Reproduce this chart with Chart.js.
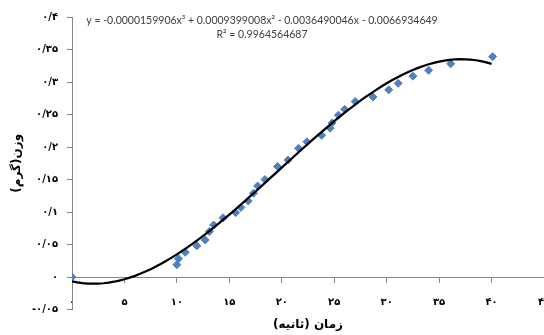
<!DOCTYPE html>
<html>
<head>
<meta charset="utf-8">
<script src="https://cdn.jsdelivr.net/npm/chart.js@4.4.0/dist/chart.umd.min.js"></script>
<style>
  html, body { margin: 0; padding: 0; background: #fff; }
  #wrap { width: 544px; height: 335px; }
</style>
</head>
<body>
<div id="wrap"><canvas id="chart"></canvas></div>
<script>
// measured points (time in s, weight in g)
const timeSec = [0, 10, 10.15, 10.8, 11.9, 12.7, 13.1, 13.5, 14.4, 15.6, 16.1, 16.8, 17.3, 17.7, 18.4, 19.6,
                 20.6, 21.6, 22.4, 23.8, 24.6, 24.8, 25.4, 26.0, 27.0, 28.7, 30.2, 31.1, 32.5, 34.0, 36.1, 40.1];
const weightG = [0, 0.019, 0.028, 0.038, 0.048, 0.057, 0.070, 0.080, 0.091, 0.099, 0.107, 0.117, 0.129, 0.140, 0.150, 0.170,
                 0.180, 0.198, 0.208, 0.218, 0.229, 0.237, 0.249, 0.258, 0.270, 0.277, 0.288, 0.298, 0.309, 0.318, 0.328, 0.339];

// cubic trendline coefficients as printed on the chart (x^3, x^2, x, 1)
const trendCoef = [-0.0000159906, 0.0009399008, -0.0036490046, -0.0066934649];
const trendText = "y = -0.0000159906x³ + 0.0009399008x² - 0.0036490046x - 0.0066934649";
const r2Text = "R² = 0.9964564687";

const xTickLabels = ["۰", "۵", "۱۰", "۱۵", "۲۰", "۲۵", "۳۰", "۳۵", "۴۰", "۴۵"];
const yTickLabels = ["-۰/۰۵", "۰", "۰/۰۵", "۰/۱", "۰/۱۵", "۰/۲", "۰/۲۵", "۰/۳", "۰/۳۵", "۰/۴"];
const xTitle = "زمان (ثانیه)";
const yTitle = "وزن(گرم)";

const axisGray = "#868686";
const digitFont = { family: "DejaVu Sans", size: 10, weight: "bold" };

const points = timeSec.map((t, i) => ({ x: t, y: weightG[i] }));

// trendline curve evaluated over the data range
const trendPts = [];
const tEnd = timeSec[timeSec.length - 1];
for (let t = 0; t <= tEnd + 0.001; t += 0.5) {
    const tt = Math.min(t, tEnd);
    const y = ((trendCoef[0] * tt + trendCoef[1]) * tt + trendCoef[2]) * tt + trendCoef[3];
    trendPts.push({ x: tt, y: y });
}

// equation + R² label
const equationLabel = {
    id: "equationLabel",
    afterDatasetsDraw(chart) {
        const ctx = chart.ctx;
        ctx.save();
        ctx.fillStyle = "#404040";
        ctx.font = "10.5px Lato";
        ctx.textAlign = "center";
        ctx.textBaseline = "middle";
        ctx.fillText(trendText, 262, 21);
        ctx.fillText(r2Text, 262, 35);
        ctx.restore();
    }
};

new Chart(document.getElementById("chart"), {
    type: "scatter",
    data: {
        datasets: [
            {
                data: trendPts,
                showLine: true,
                borderColor: "#000",
                borderWidth: 2.25,
                pointRadius: 0,
                fill: false,
                order: 0
            },
            {
                data: points,
                pointStyle: "rectRot",
                pointRadius: 4,
                pointBorderWidth: 1,
                backgroundColor: "#4F81BD",
                borderColor: "#4F81BD",
                order: 1
            }
        ]
    },
    options: {
        responsive: true,
        maintainAspectRatio: false,
        animation: false,
        layout: { autoPadding: false, padding: { top: 17, left: 0, right: 0, bottom: 0 } },
        plugins: {
            legend: { display: false },
            tooltip: { enabled: false }
        },
        scales: {
            x: {
                type: "linear",
                min: 0, max: 45,
                grid: { display: false, drawTicks: false },
                border: { display: false },
                ticks: { display: false, stepSize: 5 },
                title: {
                    display: true, text: xTitle, color: "#000",
                    font: { family: "DejaVu Sans", size: 12, weight: "bold" },
                    padding: { top: 0, bottom: 3 }
                },
                afterFit(scale) {
                    scale.height = 25.5;
                    scale.paddingLeft = 0;
                    scale.paddingRight = 0;
                }
            },
            x2: {
                type: "linear",
                axis: "x",
                position: { y: 0 },
                min: 0, max: 45,
                grid: { drawOnChartArea: false, tickLength: 5, color: axisGray },
                border: { color: axisGray, width: 1 },
                ticks: {
                    stepSize: 5, padding: 14, color: "#000", font: digitFont, maxRotation: 0,
                    callback: (v, i) => xTickLabels[i]
                },
                afterFit(scale) {
                    scale.height = 0;
                    scale.paddingLeft = 0;
                    scale.paddingRight = 0;
                }
            },
            y: {
                type: "linear",
                min: -0.05, max: 0.4,
                grid: { drawOnChartArea: false, tickLength: 5, color: axisGray },
                border: { color: axisGray, width: 1 },
                ticks: {
                    stepSize: 0.05, padding: 9, color: "#000", font: digitFont,
                    callback: (v, i) => yTickLabels[i]
                },
                title: {
                    display: true, text: yTitle, color: "#000",
                    font: { family: "DejaVu Sans", size: 12, weight: "bold" },
                    padding: { top: 10, bottom: 0 }
                },
                afterFit(scale) {
                    scale.width = 72;
                    scale.paddingTop = 0;
                    scale.paddingBottom = 0;
                }
            }
        }
    },
    plugins: [equationLabel]
});
</script>
</body>
</html>
